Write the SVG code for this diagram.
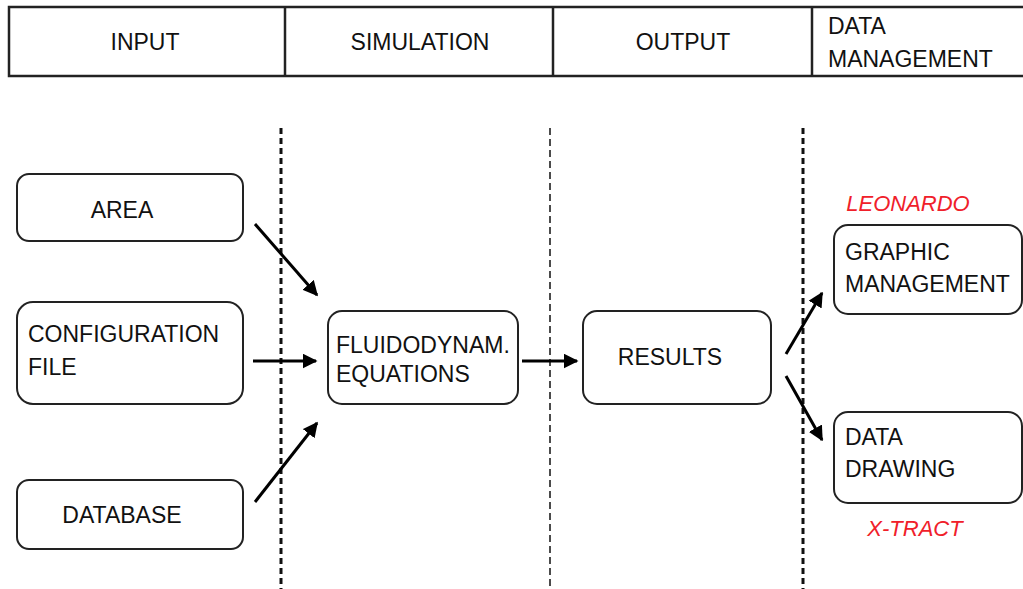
<svg xmlns="http://www.w3.org/2000/svg" width="1023" height="589" viewBox="0 0 1023 589">
  <defs>
    <marker id="arrow" viewBox="0 0 10 10" refX="9" refY="5" markerWidth="5" markerHeight="5" markerUnits="strokeWidth" orient="auto">
      <path d="M0,0 L10,5 L0,10 z" fill="#000"/>
    </marker>
  </defs>
  <style>
    text { font-family: "Liberation Sans", Arial, sans-serif; font-size: 23px; fill: #111; }
    .hdr { fill: none; stroke: #222; stroke-width: 2.5; }
    .box { fill: #fff; stroke: #222; stroke-width: 2; }
    .sep { stroke: #111; stroke-width: 3; stroke-dasharray: 6 4; }
    .sep-thin { stroke: #111; stroke-width: 1.5; stroke-dasharray: 7 4; }
    .conn { stroke: #000; stroke-width: 3; fill: none; marker-end: url(#arrow); }
    .tool { fill: #f0202a; font-style: italic; font-size: 22px; }
  </style>
  <rect width="1023" height="589" fill="#fff"/>

  <!-- phase header row -->
  <g id="header">
    <rect class="hdr" x="9" y="7" width="1020" height="69"/>
    <line class="hdr" x1="285" y1="7" x2="285" y2="76"/>
    <line class="hdr" x1="553" y1="7" x2="553" y2="76"/>
    <line class="hdr" x1="812" y1="7" x2="812" y2="76"/>
    <text x="145" y="50" text-anchor="middle">INPUT</text>
    <text x="420" y="50" text-anchor="middle">SIMULATION</text>
    <text x="683" y="50" text-anchor="middle">OUTPUT</text>
    <text x="828" y="34">DATA</text>
    <text x="828" y="67">MANAGEMENT</text>
  </g>

  <!-- phase separators -->
  <g id="separators">
    <line class="sep" x1="281" y1="128" x2="281" y2="589"/>
    <line class="sep-thin" x1="550" y1="128" x2="550" y2="589"/>
    <line class="sep" x1="803" y1="128" x2="803" y2="589"/>
  </g>

  <g id="area">
    <rect class="box" x="17" y="174" width="226" height="67" rx="12"/>
    <text x="122" y="218" text-anchor="middle">AREA</text>
  </g>
  <g id="configuration-file">
    <rect class="box" x="17" y="302" width="226" height="102" rx="16"/>
    <text x="28" y="342">CONFIGURATION</text>
    <text x="28" y="375">FILE</text>
  </g>
  <g id="database">
    <rect class="box" x="17" y="480" width="226" height="69" rx="12"/>
    <text x="122" y="523" text-anchor="middle">DATABASE</text>
  </g>
  <g id="fluidodynam-equations">
    <rect class="box" x="328" y="311" width="190" height="93" rx="14"/>
    <text x="336" y="353">FLUIDODYNAM.</text>
    <text x="336" y="382">EQUATIONS</text>
  </g>
  <g id="results">
    <rect class="box" x="583" y="311" width="188" height="93" rx="14"/>
    <text x="670" y="365" text-anchor="middle">RESULTS</text>
  </g>
  <g id="graphic-management">
    <rect class="box" x="834" y="225" width="188" height="89" rx="14"/>
    <text x="845" y="260">GRAPHIC</text>
    <text x="845" y="292">MANAGEMENT</text>
  </g>
  <g id="data-drawing">
    <rect class="box" x="834" y="412" width="188" height="91" rx="14"/>
    <text x="845" y="445">DATA</text>
    <text x="845" y="477">DRAWING</text>
  </g>
  <g id="labels">
    <text class="tool" x="908" y="211" text-anchor="middle">LEONARDO</text>
    <text class="tool" x="915" y="536" text-anchor="middle">X-TRACT</text>
  </g>

  <!-- connectors -->
  <g id="connectors">
    <line class="conn" x1="255" y1="224" x2="317" y2="295"/>
    <line class="conn" x1="253" y1="361" x2="316" y2="361"/>
    <line class="conn" x1="255" y1="502" x2="317" y2="423"/>
    <line class="conn" x1="522" y1="361" x2="577" y2="361"/>
    <line class="conn" x1="786" y1="354" x2="822" y2="293"/>
    <line class="conn" x1="786" y1="376" x2="822" y2="440"/>
  </g>
</svg>
